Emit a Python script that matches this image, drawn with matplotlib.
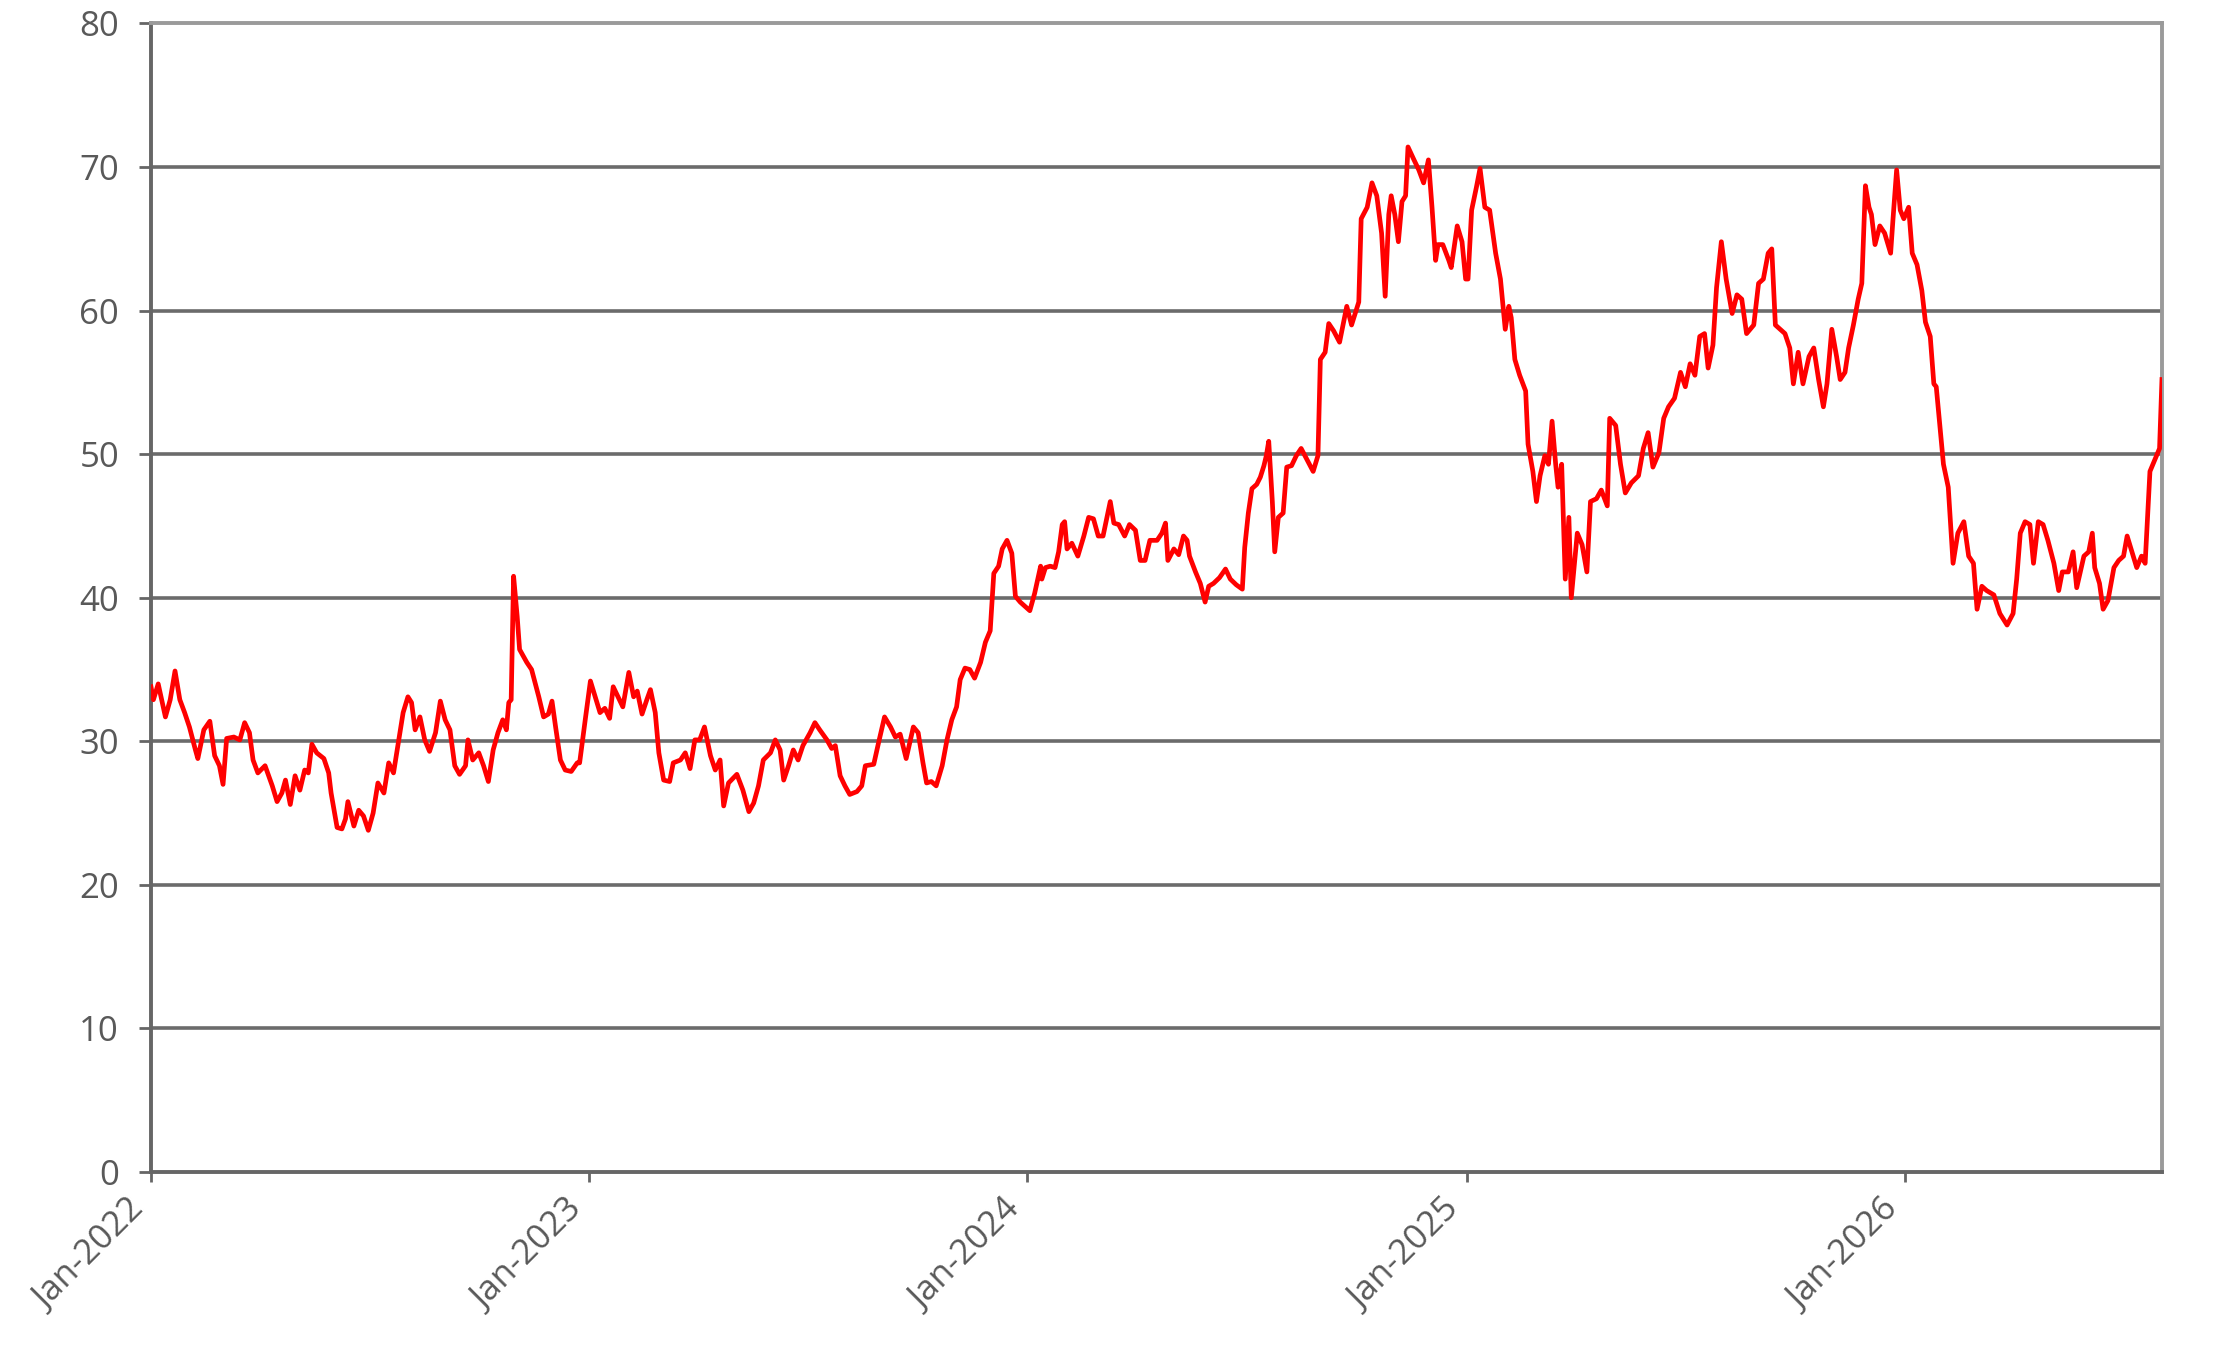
import matplotlib
matplotlib.use("Agg")
import matplotlib.pyplot as plt
import pandas as pd

# ---------------- data ----------------
start_date = "2022-01-01"

day_offset = [
    0, 2, 6, 12, 16, 20, 24, 28, 32, 37, 39, 44, 49, 53, 57, 60, 63, 69, 74, 78,
    82, 85, 89, 95, 101, 105, 109, 112, 116, 120, 124, 128, 131, 134, 138, 144, 148, 150, 155, 159,
    162, 164, 169, 173, 177, 181, 185, 189, 194, 198, 202, 206, 210, 214, 217, 220, 224, 228, 232, 237,
    241, 245, 249, 253, 257, 262, 264, 268, 273, 277, 281, 285, 289, 293, 296, 298, 300, 302, 305, 307,
    313, 317, 323, 327, 331, 334, 337, 341, 345, 350, 355,
    357, 362, 366, 370, 374, 378, 382, 385, 389, 393, 398, 402, 405, 409, 413, 416, 420, 423, 427, 432,
    435, 441, 445, 449, 453, 457, 461, 466, 470, 474, 477, 481, 488, 493, 498, 502, 506, 510, 516, 520,
    524, 527, 531, 535, 539, 543, 549, 553, 557, 563, 567, 570, 574, 578, 582, 588, 592, 595, 602, 606,
    611, 616, 620, 624, 629, 635, 639, 643, 646, 650, 654, 659, 663, 667, 671, 674, 678, 682, 686, 691,
    695, 699, 702, 706, 709, 713, 717, 720, 724, 728, 732, 736, 741,
    742, 745, 749, 753, 756, 759, 761, 763, 767, 772, 777, 781, 785, 789, 793, 799, 802, 806, 811, 815,
    820, 824, 828, 832, 838, 842, 845, 847, 852, 856, 860, 863, 865, 870, 874, 878, 881, 885, 890, 895,
    899, 904, 909, 911, 914, 917, 921, 924, 927, 929, 931, 934, 936, 939, 943, 946, 950, 954, 958, 963,
    968, 972, 974, 978, 981, 985, 990, 996, 1000, 1006, 1008, 1013, 1017, 1021, 1025, 1028, 1031, 1033, 1036, 1039,
    1042, 1045, 1047, 1052, 1056,
    1060, 1064, 1067, 1070, 1072, 1076, 1081, 1083, 1088, 1092, 1095, 1097, 1100, 1104, 1107, 1111, 1115, 1120, 1124, 1128,
    1131, 1133, 1136, 1140, 1145, 1147, 1151, 1154, 1157, 1161, 1164, 1167, 1170, 1172, 1175, 1178, 1181, 1183, 1188, 1192,
    1196, 1199, 1204, 1208, 1213, 1215, 1220, 1224, 1228, 1233, 1239, 1243, 1247, 1251, 1256, 1260, 1264, 1269, 1274, 1278,
    1282, 1286, 1290, 1294, 1297, 1301, 1304, 1308, 1312, 1317, 1321, 1325, 1329, 1335, 1339, 1343, 1347, 1350, 1353,
    1357, 1361, 1365, 1368, 1372, 1376, 1381, 1385, 1389, 1393, 1396, 1400, 1404, 1407, 1411, 1414, 1418, 1422, 1425, 1428,
    1431, 1433, 1436, 1440, 1444, 1449, 1451, 1454, 1457, 1460, 1464, 1467, 1471, 1475, 1478, 1482, 1485, 1487, 1490, 1493,
    1497, 1501, 1505, 1510, 1514, 1518, 1521, 1525, 1529, 1535, 1540, 1546, 1551, 1554, 1557, 1561, 1565, 1568, 1572, 1576,
    1580, 1585, 1589, 1592, 1597, 1601, 1604, 1610, 1614, 1617, 1619, 1623, 1626, 1630, 1635, 1639, 1643, 1646, 1650, 1654,
    1658, 1661, 1665, 1669, 1673, 1675,
]

value = [
    33.8, 32.9, 34.0, 31.7, 32.9, 34.9, 32.9, 32.0, 31.0, 29.4, 28.8, 30.8, 31.4, 29.0, 28.3, 27.0, 30.2, 30.3, 30.1, 31.3,
    30.6, 28.7, 27.8, 28.3, 26.9, 25.8, 26.4, 27.3, 25.6, 27.6, 26.6, 28.0, 27.8, 29.8, 29.2, 28.8, 27.8, 26.4, 24.0, 23.9,
    24.6, 25.8, 24.1, 25.2, 24.8, 23.8, 25.0, 27.1, 26.4, 28.5, 27.8, 29.9, 32.0, 33.1, 32.7, 30.8, 31.7, 30.1, 29.3, 30.6,
    32.8, 31.5, 30.8, 28.3, 27.7, 28.3, 30.1, 28.7, 29.2, 28.3, 27.2, 29.4, 30.6, 31.5, 30.8, 32.7, 32.9, 41.5, 38.7, 36.4,
    35.5, 35.0, 33.1, 31.7, 31.9, 32.8, 31.0, 28.7, 28.0, 27.9, 28.5,
    28.5, 31.7, 34.2, 33.1, 32.0, 32.3, 31.6, 33.8, 33.1, 32.4, 34.8, 33.1, 33.5, 31.9, 32.9, 33.6, 32.0, 29.2, 27.3, 27.2,
    28.5, 28.7, 29.2, 28.1, 30.1, 30.1, 31.0, 29.0, 28.0, 28.7, 25.5, 27.1, 27.7, 26.6, 25.1, 25.7, 26.9, 28.7, 29.2, 30.1,
    29.4, 27.3, 28.3, 29.4, 28.7, 29.7, 30.6, 31.3, 30.8, 30.1, 29.5, 29.7, 27.6, 26.9, 26.3, 26.5, 26.9, 28.3, 28.4, 29.9,
    31.7, 31.0, 30.3, 30.5, 28.8, 31.0, 30.6, 28.5, 27.1, 27.2, 26.9, 28.3, 30.1, 31.5, 32.4, 34.3, 35.1, 35.0, 34.4, 35.5,
    36.9, 37.7, 41.7, 42.2, 43.4, 44.0, 43.1, 40.1, 39.7, 39.4, 39.1, 40.3, 42.2,
    41.3, 42.1, 42.2, 42.1, 43.2, 45.1, 45.3, 43.4, 43.8, 42.9, 44.3, 45.6, 45.5, 44.3, 44.3, 46.7, 45.2, 45.1, 44.3, 45.1,
    44.7, 42.6, 42.6, 44.0, 44.0, 44.5, 45.2, 42.6, 43.4, 43.0, 44.3, 44.0, 42.9, 41.8, 41.0, 39.7, 40.8, 41.0, 41.4, 42.0,
    41.3, 40.9, 40.6, 43.5, 45.9, 47.6, 47.9, 48.4, 49.2, 49.9, 50.9, 46.7, 43.2, 45.6, 45.9, 49.1, 49.2, 49.9, 50.4, 49.6,
    48.8, 49.9, 56.6, 57.1, 59.1, 58.6, 57.8, 60.3, 59.0, 60.6, 66.4, 67.2, 68.9, 68.0, 65.4, 61.0, 66.7, 68.0, 66.7, 64.8,
    67.6, 68.0, 71.4, 70.5, 69.8,
    68.9, 70.5, 67.2, 63.5, 64.6, 64.6, 63.5, 63.0, 65.9, 64.8, 62.2, 62.2, 67.0, 68.6, 69.9, 67.2, 67.0, 64.0, 62.2, 58.7,
    60.3, 59.5, 56.6, 55.5, 54.4, 50.7, 48.8, 46.7, 48.5, 49.9, 49.3, 52.3, 49.3, 47.7, 49.3, 41.3, 45.6, 40.0, 44.5, 43.7,
    41.8, 46.7, 46.9, 47.5, 46.4, 52.5, 52.0, 49.3, 47.3, 48.0, 48.5, 50.4, 51.5, 49.1, 50.1, 52.5, 53.3, 53.9, 55.7, 54.7,
    56.3, 55.5, 58.2, 58.4, 56.0, 57.6, 61.6, 64.8, 62.2, 59.8, 61.1, 60.8, 58.4, 59.0, 61.9, 62.2, 64.0, 64.3, 59.0,
    58.7, 58.4, 57.4, 54.9, 57.1, 54.9, 56.8, 57.4, 55.2, 53.3, 54.9, 58.7, 56.8, 55.2, 55.7, 57.4, 59.0, 60.8, 61.9, 68.7,
    67.2, 66.7, 64.6, 65.9, 65.4, 64.0, 66.4, 69.8, 67.0, 66.4, 67.2, 64.0, 63.2, 61.4, 59.2, 58.2, 54.9, 54.7, 52.0, 49.3,
    47.7, 42.4, 44.5, 45.3, 42.9, 42.4, 39.2, 40.8, 40.5, 40.2, 38.9, 38.1, 38.9, 41.3, 44.5, 45.3, 45.1, 42.4, 45.3, 45.1,
    44.0, 42.4, 40.5, 41.8, 41.8, 43.2, 40.7, 42.9, 43.2, 44.5, 42.1, 41.0, 39.2, 39.8, 42.1, 42.6, 42.9, 44.3, 43.2, 42.1,
    42.9, 42.4, 48.8, 49.6, 50.4, 55.2,
]

x_tick_dates = ["2022-01-01", "2023-01-01", "2024-01-01", "2025-01-01", "2026-01-01"]
x_tick_labels = ["Jan-2022", "Jan-2023", "Jan-2024", "Jan-2025", "Jan-2026"]
y_ticks = [0, 10, 20, 30, 40, 50, 60, 70, 80]

# ---------------- plot ----------------
plt.rcParams["font.family"] = ["Open Sans", "DejaVu Sans"]

dates = pd.Timestamp(start_date) + pd.to_timedelta(day_offset, unit="D")

fig = plt.figure(figsize=(22.24, 13.66), dpi=100)
ax = fig.add_axes([0.0679, 0.1420, 0.9042, 0.8408])

for yv in y_ticks[1:-1]:
    ax.axhline(yv, color="#6b6b6b", lw=2.6, zorder=1)

ax.plot(dates, value, color="#ff0000", lw=3.4, zorder=3, solid_joinstyle="round")

ax.set_xlim(dates[0], dates[-1])
ax.set_ylim(y_ticks[0], y_ticks[-1])
ax.set_yticks(y_ticks)
ax.set_xticks(pd.to_datetime(x_tick_dates))
ax.set_xticklabels(x_tick_labels, rotation=45, ha="right")

for side in ["left", "bottom"]:
    ax.spines[side].set_color("#666666")
    ax.spines[side].set_linewidth(2.8)
for side in ["top", "right"]:
    ax.spines[side].set_color("#9a9a9a")
    ax.spines[side].set_linewidth(2.8)

ax.tick_params(axis="y", direction="out", length=9, width=2, color="#666666",
               pad=14, labelsize=25, labelcolor="#595959")
ax.tick_params(axis="x", direction="out", length=7, width=2, color="#666666",
               pad=8, labelsize=25, labelcolor="#595959")

fig.savefig("out.png", dpi=100, facecolor="white")
